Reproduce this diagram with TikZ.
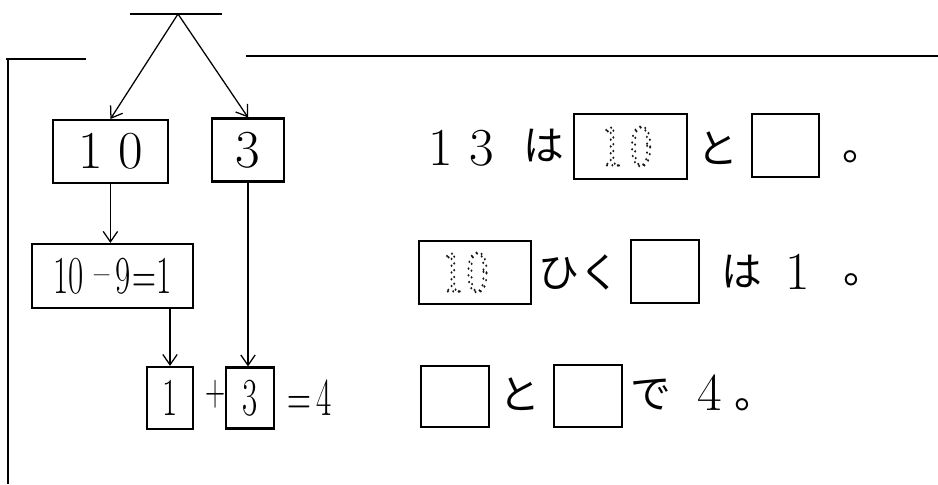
\documentclass[tikz,border=0pt]{standalone}
\usepackage{fontspec}
\usepackage{graphicx}
\usepackage{tikz}
\usetikzlibrary{arrows.meta,positioning}
\newfontfamily\jpfont{Noto Sans CJK JP}
\newcommand\numsize{\fontsize{38}{42}\selectfont}
\newcommand\kanasize{\jpfont\fontsize{29}{33}\selectfont}
\newcommand\slim[1]{\scalebox{0.62}[1]{#1}}
% dotted outline digits for tracing
\newcommand\traced[1]{\special{pdf:literal direct 1 Tr 1.9 w [0 4.8] 0 d 1 J 0.1 G}#1\special{pdf:literal direct 0 Tr [] 0 d 0 J 0 G}}

\begin{document}
\begin{tikzpicture}[
  num/.style={font=\numsize, inner sep=0pt},
  kana/.style={font=\kanasize, inner sep=0pt},
  maru/.style={kana, anchor=base west},
  box/.style={draw, line width=1.5pt, inner sep=0pt, font=\numsize},
  ansbox/.style={box, minimum width=1.7cm, minimum height=1.575cm},
  ar/.style={-{Straight Barb[length=2.6mm, width=3.6mm]}, line width=0.9pt},
  rule/.style={line width=1.3pt}
]
  \useasboundingbox (0,0) rectangle (23.45,12.1);
  % frame
  \draw[line width=2pt] (0.2,10.63) -- (0.2,0);
  \draw[rule] (0.15,10.63) -- (2.15,10.63);
  \draw[rule] (6.15,10.7) -- (23.45,10.7);
  % left: decomposition
  \coordinate (barL) at (3.25,11.75);
  \coordinate (barR) at (5.55,11.75);
  \coordinate (top) at (4.45,11.75);
  \draw[rule] (barL) -- (barR);
  \node[box, minimum width=2.875cm, minimum height=1.575cm] (ten) at (2.76,8.31) {1\hspace{11pt}0};
  \node[box, minimum width=1.8cm, minimum height=1.575cm] (three) at (6.2,8.35) {3};
  \node[box, minimum width=4.03cm, minimum height=1.6cm] (sub) at (2.81,5.2) {\slim{10\hspace{12pt}\raisebox{3pt}{–}\hspace{7pt}9\hspace{2pt}=1}};
  \node[box, minimum width=1.15cm, minimum height=1.55cm] (one) at (4.25,2.15) {\slim{1}};
  \node[num, font=\fontsize{32}{36}\selectfont] (plus) at (5.38,2.25) {\slim{+}};
  \node[box, minimum width=1.2cm, minimum height=1.525cm] (threeb) at (6.25,2.15) {\slim{3}};
  \node[num] (eqfour) at (7.74,2.15) {\slim{=\hspace{6pt}4}};
  \draw[ar] (top) -- (ten.north);
  \draw[ar] (top) -- (three.north);
  \draw[ar] (ten.south) -- (ten.south |- sub.north);
  \draw[ar] (one.north |- sub.south) -- (one.north);
  \draw[ar] (three.south) -- (three.south |- threeb.north);
  % right, row 1
  \node[num] (r1num) at (11.53,8.39) {1\hspace{11.8pt}3};
  \node[kana] (r1ha) at (13.6,8.45) {は};
  \node[box, minimum width=2.825cm, minimum height=1.625cm] (r1box) at (15.76,8.44) {};
  \node[kana] (r1to) at (17.94,8.39) {と};
  \node[ansbox, minimum width=1.675cm] (r1blank) at (19.64,8.46) {};
  \node[maru] (r1dot) at (21.06,8.09) {。};
  % right, row 2
  \node[box, minimum width=2.8cm, minimum height=1.575cm] (r2box) at (11.875,5.29) {};
  \node[kana] (r2hiku) at (14.49,5.3) {ひく};
  \node[ansbox] (r2blank) at (16.625,5.31) {};
  \node[kana] (r2ha) at (18.54,5.3) {は};
  \node[num] (r2one) at (19.94,5.3) {1};
  \node[maru] (r2dot) at (21.08,5.02) {。};
  % right, row 3
  \node[ansbox, minimum height=1.525cm] (r3blankA) at (11.375,2.19) {};
  \node[kana] (r3to) at (13.0,2.25) {と};
  \node[ansbox, minimum height=1.55cm] (r3blankB) at (14.7,2.2) {};
  \node[kana] (r3de) at (16.275,2.23) {で};
  \node[num] (r3four) at (17.75,2.28) {4};
  \node[maru] (r3dot) at (18.36,1.89) {。};
  % tracing digits
  \node[num, font=\fontsize{42}{46}\selectfont] (r1trace) at ([xshift=-0.1cm]r1box.center) {\scalebox{0.8}[1]{\traced{1\hspace{7pt}0}}};
  \node[num, font=\fontsize{42}{46}\selectfont] (r2trace) at ([xshift=-0.25cm]r2box.center) {\scalebox{0.8}[1]{\traced{1\hspace{3pt}0}}};
\end{tikzpicture}
\end{document}
